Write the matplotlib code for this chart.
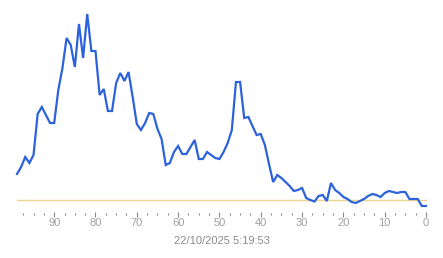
import matplotlib.pyplot as plt
import numpy as np
from matplotlib.ticker import MultipleLocator

# x runs from 99 (left) down to 0 (right)
x_vals = list(range(99, -1, -1))
values = [26, 33, 43, 37, 45, 86, 93, 85, 77, 77,
          110, 132, 162, 155, 133, 176, 142, 186, 149, 149,
          105, 111, 89, 89, 117, 127, 119, 128, 103, 76,
          70, 77, 87, 86, 71, 61, 35, 37, 48, 54,
          46, 46, 53, 60, 41, 41, 48, 45, 42, 41,
          48, 57, 70, 118, 118, 82, 83, 74, 65, 66,
          55, 36, 18, 25, 22, 18, 14, 9, 10, 12,
          2, 0, -1.5, 4, 5, -1, 17, 10, 7, 3,
          1, -2, -3, -1, 1, 4, 6, 5, 3, 7,
          9, 8, 7, 8, 8, 1, 1, 1, -6, -6]
baseline = 0
date_label = "22/10/2025 5:19:53"

W, H = 443, 258
fig = plt.figure(figsize=(W / 100, H / 100), dpi=100)
plt.rcParams['font.family'] = ['Liberation Sans', 'DejaVu Sans']

# axes placed in pixel coordinates
left, right, top, bottom = 17, 426, 5, 213.5
ax = fig.add_axes([left / W, (H - bottom) / H, (right - left) / W, (bottom - top) / H])
ax.set_xlim(99, 0)
ax.set_ylim(200 - bottom, 200 - top)

ax.plot([x_vals[0], x_vals[-1]], [baseline, baseline], color='#ecd58f', linewidth=1.0, clip_on=False)
ax.plot(x_vals, values, color='#2c62dc', linewidth=1.6, solid_joinstyle='miter', clip_on=False)

for s in ax.spines.values():
    s.set_visible(False)
ax.set_yticks([])
ax.xaxis.set_major_locator(MultipleLocator(10))
ax.xaxis.set_minor_locator(MultipleLocator(2.5))
ax.tick_params(axis='x', which='major', direction='inout', length=3.6, width=0.8,
               color='#888888', labelcolor='#a0a0a0', labelsize=8, pad=1.5)
ax.tick_params(axis='x', which='minor', direction='inout', length=1.2, width=0.8,
               color='#888888')

fig.text((left + right) / 2 / W, 1 - 241 / H, date_label, ha='center', va='center',
         fontsize=8, color='#8c8c8c')

fig.savefig('out.png', dpi=100, facecolor='white')
